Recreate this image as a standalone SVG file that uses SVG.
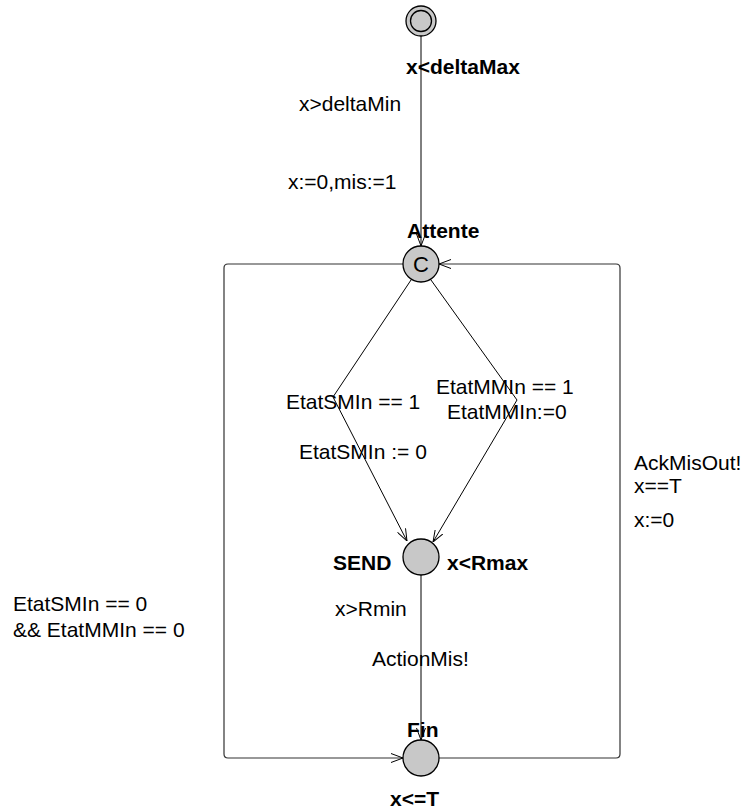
<svg xmlns="http://www.w3.org/2000/svg" width="747" height="810" viewBox="0 0 747 810">
<defs>
<style>
.loc{fill:#c8c8c8;stroke:#000;stroke-width:1.3}
.edge{fill:none;stroke:#000;stroke-width:1}
.loop{fill:none;stroke:#333;stroke-width:1.2}
.lbl{font-family:"Liberation Sans",Arial,sans-serif;font-size:21px;fill:#000}
.name{font-family:"Liberation Sans",Arial,sans-serif;font-size:21px;font-weight:bold;fill:#000}
</style>
<marker id="arr" viewBox="0 0 12 10" refX="12" refY="5" markerWidth="12" markerHeight="10" markerUnits="userSpaceOnUse" orient="auto">
<path d="M0,0.5 L12,5 L0,9.5" fill="none" stroke="#000" stroke-width="1"/>
</marker>
</defs>
<rect width="747" height="810" fill="#fff"/>
<g id="connectors">
<line class="edge" x1="421" y1="36" x2="421" y2="246" marker-end="url(#arr)"/>
<polyline class="edge" points="411,280 333,397 407,541" marker-end="url(#arr)"/>
<polyline class="edge" points="431,280 517,400 433,542" marker-end="url(#arr)"/>
<line class="edge" x1="421" y1="575" x2="421" y2="740" marker-end="url(#arr)"/>
<path class="loop" d="M403,264 L228,264 Q224,264 224,268 L224,754 Q224,758 228,758 L403,758" marker-end="url(#arr)"/>
<path class="loop" d="M439,758 L616,758 Q620,758 620,754 L620,268 Q620,264 616,264 L439,264" marker-end="url(#arr)"/>
</g>
<g id="init">
<circle class="loc" cx="421" cy="21" r="15"/>
<circle cx="421" cy="21" r="10.5" fill="none" stroke="#000" stroke-width="1.3"/>
<text class="name" x="406" y="74">x&lt;deltaMax</text>
</g>
<g id="attente">
<circle class="loc" cx="421" cy="264" r="18"/>
<text x="421" y="272" text-anchor="middle" font-family="Liberation Sans,Arial,sans-serif" font-size="22" fill="#000">C</text>
<text class="name" x="407" y="238">Attente</text>
</g>
<g id="send">
<circle class="loc" cx="421" cy="557" r="18"/>
<text class="name" x="333" y="570">SEND</text>
<text class="name" x="447" y="570">x&lt;Rmax</text>
</g>
<g id="fin">
<circle class="loc" cx="421" cy="758" r="18"/>
<text class="name" x="407" y="737">Fin</text>
<text class="name" x="390" y="806">x&lt;=T</text>
</g>
<g id="labels">
<text class="lbl" x="299" y="111">x&gt;deltaMin</text>
<text class="lbl" x="288" y="189">x:=0,mis:=1</text>
<text class="lbl" x="286" y="409">EtatSMIn == 1</text>
<text class="lbl" x="299" y="459">EtatSMIn := 0</text>
<text class="lbl" x="436" y="394">EtatMMIn == 1</text>
<text class="lbl" x="447" y="419">EtatMMIn:=0</text>
<text class="lbl" x="634" y="470">AckMisOut!</text>
<text class="lbl" x="634" y="493">x==T</text>
<text class="lbl" x="634" y="527">x:=0</text>
<text class="lbl" x="335" y="616">x&gt;Rmin</text>
<text class="lbl" x="372" y="666">ActionMis!</text>
<text class="lbl" x="13" y="611">EtatSMIn == 0</text>
<text class="lbl" x="13" y="637">&amp;&amp; EtatMMIn == 0</text>
</g>
</svg>
